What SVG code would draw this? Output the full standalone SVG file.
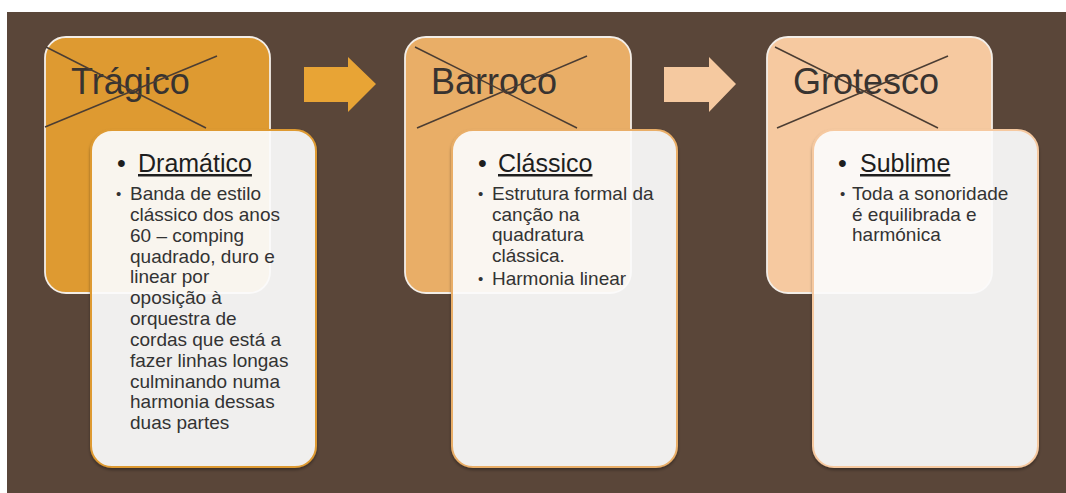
<svg xmlns="http://www.w3.org/2000/svg" width="1066" height="493" viewBox="0 0 1066 493">
<style>
.top{stroke:#f3eee8;stroke-width:1.8}
.low{fill:#ffffff;fill-opacity:0.9;stroke-width:2}
.xl{stroke:#4b3d33;stroke-width:1.5;fill:none}
.title{font-family:"Liberation Sans",Arial,sans-serif;font-size:36px;fill:#383330}
.head{font-family:"Liberation Sans",Arial,sans-serif;font-size:25px;fill:#1e1e1e}
.u{text-decoration:underline}
.body{font-family:"Liberation Sans",Arial,sans-serif;font-size:19px;fill:#333333}
.sb{font-family:"Liberation Sans",Arial,sans-serif;font-size:15px;fill:#333333}
</style>
<defs>
<filter id="sh" x="-10%" y="-10%" width="120%" height="120%">
<feDropShadow dx="0" dy="2" stdDeviation="1.5" flood-color="#000" flood-opacity="0.35"/>
</filter>
</defs>
<rect x="7" y="12" width="1059" height="481" fill="#5a4639"/>
<g id="connectors">
<polygon points="304,67 348,67 348,57 376,84 348,112 348,102 304,102" fill="#e8a435"/>
<polygon points="664,67 709,67 709,57 736,84 709,112 709,102 664,102" fill="#f5c9a0"/>
</g>
<g id="node-tragico">
<rect class="top" x="45" y="37" width="225" height="256" rx="21" fill="#de9a31"/>
<text class="title" x="71" y="94">Trágico</text>
<line class="xl" x1="46" y1="47" x2="206" y2="128"/>
<line class="xl" x1="45" y1="127" x2="217" y2="56"/>
</g>
<g id="node-dramatico">
<rect class="low" x="91" y="130" width="225" height="337" rx="21" stroke="#de9a31" filter="url(#sh)"/>
<text class="head" x="117" y="172">•</text>
<text class="head u" x="138" y="172">Dramático</text>
<text class="sb" x="116" y="199">•</text>
<text class="body"><tspan x="130" y="200">Banda de estilo</tspan><tspan x="130" y="221">clássico dos anos</tspan><tspan x="130" y="242">60 – comping</tspan><tspan x="130" y="263">quadrado, duro e</tspan><tspan x="130" y="283">linear por</tspan><tspan x="130" y="304">oposição à</tspan><tspan x="130" y="325">orquestra de</tspan><tspan x="130" y="346">cordas que está a</tspan><tspan x="130" y="367">fazer linhas longas</tspan><tspan x="130" y="388">culminando numa</tspan><tspan x="130" y="408">harmonia dessas</tspan><tspan x="130" y="429">duas partes</tspan></text>
</g>
<g id="node-barroco">
<rect class="top" x="405" y="37" width="226" height="256" rx="21" fill="#e9ae67"/>
<text class="title" x="431" y="94">Barroco</text>
<line class="xl" x1="415" y1="47" x2="577" y2="128"/>
<line class="xl" x1="417" y1="128" x2="587" y2="56"/>
</g>
<g id="node-classico">
<rect class="low" x="452" y="130" width="225" height="337" rx="21" stroke="#e9ae67" filter="url(#sh)"/>
<text class="head" x="478" y="172">•</text>
<text class="head u" x="498" y="172">Clássico</text>
<text class="sb" x="478" y="199">•</text>
<text class="body"><tspan x="492" y="200">Estrutura formal da</tspan><tspan x="492" y="221">canção na</tspan><tspan x="492" y="241">quadratura</tspan><tspan x="492" y="262">clássica.</tspan></text>
<text class="sb" x="478" y="284">•</text>
<text class="body" x="492" y="285">Harmonia linear</text>
</g>
<g id="node-grotesco">
<rect class="top" x="767" y="37" width="225" height="256" rx="21" fill="#f6c9a0"/>
<text class="title" x="793" y="94">Grotesco</text>
<line class="xl" x1="775" y1="47" x2="938" y2="128"/>
<line class="xl" x1="777" y1="128" x2="948" y2="56"/>
</g>
<g id="node-sublime">
<rect class="low" x="813" y="130" width="225" height="337" rx="21" stroke="#f6c9a0" filter="url(#sh)"/>
<text class="head" x="838" y="172">•</text>
<text class="head u" x="860" y="172">Sublime</text>
<text class="sb" x="840" y="199">•</text>
<text class="body"><tspan x="852" y="200">Toda a sonoridade</tspan><tspan x="852" y="221">é equilibrada e</tspan><tspan x="852" y="241">harmónica</tspan></text>
</g>
</svg>
